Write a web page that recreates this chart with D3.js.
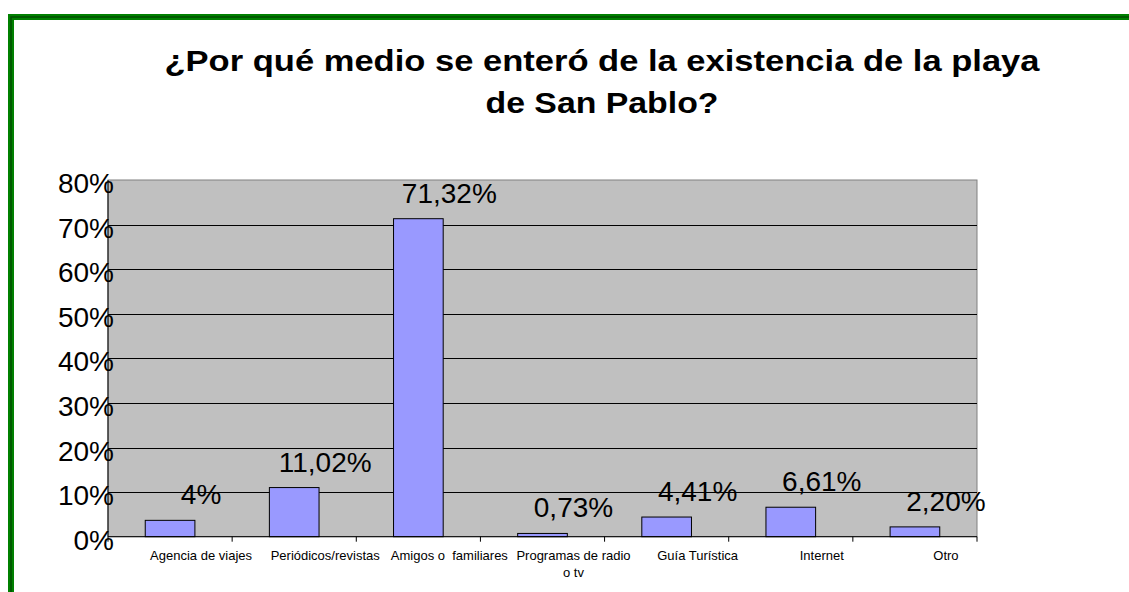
<!DOCTYPE html>
<html>
<head>
<meta charset="utf-8">
<script src="https://cdn.jsdelivr.net/npm/d3@7"></script>
<style>
  body { margin: 0; background: #fff; }
  text { font-family: "Liberation Sans", Arial, sans-serif; }
</style>
</head>
<body>
<div id="chart"></div>
<script>
// data
var categories = ["Agencia de viajes", "Periódicos/revistas", "Amigos o  familiares",
                  "Programas de radio\no tv", "Guía Turística", "Internet", "Otro"];
var values = [3.67, 11.02, 71.32, 0.73, 4.41, 6.61, 2.20];
var valueLabels = ["4%", "11,02%", "71,32%", "0,73%", "4,41%", "6,61%", "2,20%"];
var yTicks = [0, 10, 20, 30, 40, 50, 60, 70, 80];
var titleLines = ["¿Por qué medio se enteró de la existencia de la playa", "de San Pablo?"];

var fullWidth = 1129, fullHeight = 592;
var plot = {left: 108, top: 180, right: 977, bottom: 536.7};

var svg = d3.select("#chart").append("svg")
  .attr("width", fullWidth)
  .attr("height", fullHeight);

svg.append("rect").attr("width", fullWidth).attr("height", fullHeight).attr("fill", "#fff");

// green frame (only top/left visible)
svg.append("rect")
  .attr("x", 11).attr("y", 17)
  .attr("width", 1400).attr("height", 900)
  .attr("fill", "none").attr("stroke", "#008000").attr("stroke-width", 6);
svg.append("rect")
  .attr("x", 11).attr("y", 17)
  .attr("width", 1400).attr("height", 900)
  .attr("fill", "none").attr("stroke", "#004d00").attr("stroke-width", 1.5);

// title
var titleW = [875, 233];
svg.selectAll(".title").data(titleLines).enter()
  .append("text")
  .attr("class", "title")
  .attr("x", 602)
  .attr("y", function(d, i) { return 70.7 + i * 42.6; })
  .attr("text-anchor", "middle")
  .attr("textLength", function(d, i) { return titleW[i]; })
  .attr("lengthAdjust", "spacingAndGlyphs")
  .style("font-size", "29px")
  .style("font-weight", "bold")
  .text(function(d) { return d; });

var x = d3.scaleBand().domain(categories).range([plot.left, plot.right]).paddingInner(0).paddingOuter(0);
var y = d3.scaleLinear().domain([0, 80]).range([plot.bottom, plot.top]);
var bw = x.bandwidth() * 0.4;

// plot area
svg.append("rect")
  .attr("x", plot.left).attr("y", plot.top)
  .attr("width", plot.right - plot.left).attr("height", plot.bottom - plot.top)
  .attr("fill", "#c0c0c0").attr("stroke", "#808080").attr("stroke-width", 1);

// gridlines
svg.selectAll(".grid").data(yTicks.filter(function(t) { return t > 0 && t < 80; })).enter()
  .append("line")
  .attr("x1", plot.left).attr("x2", plot.right)
  .attr("y1", function(d) { return Math.round(y(d)) + 0.5; })
  .attr("y2", function(d) { return Math.round(y(d)) + 0.5; })
  .attr("stroke", "#000").attr("stroke-width", 1);

// bars
svg.selectAll(".bar").data(values).enter()
  .append("rect")
  .attr("class", "bar")
  .attr("x", function(d, i) { return x(categories[i]) + (x.bandwidth() - bw) / 2; })
  .attr("y", function(d) { return y(d); })
  .attr("width", bw)
  .attr("height", function(d) { return plot.bottom - y(d); })
  .attr("fill", "#9999ff").attr("stroke", "#000").attr("stroke-width", 1);

// axes lines
svg.append("line").attr("x1", plot.left).attr("x2", plot.left)
  .attr("y1", plot.top).attr("y2", plot.bottom).attr("stroke", "#000");
svg.append("line").attr("x1", plot.left).attr("x2", plot.right)
  .attr("y1", plot.bottom).attr("y2", plot.bottom).attr("stroke", "#000");

// x tick marks at category boundaries
var bounds = categories.map(function(c) { return x(c); }).concat([plot.right]);
svg.selectAll(".xtick").data(bounds).enter()
  .append("line")
  .attr("x1", function(d) { return d; }).attr("x2", function(d) { return d; })
  .attr("y1", plot.bottom).attr("y2", plot.bottom + 5)
  .attr("stroke", "#000");

// y labels
svg.selectAll(".ylab").data(yTicks).enter()
  .append("text")
  .attr("x", 114)
  .attr("y", function(d) { return y(d) + 13; })
  .attr("text-anchor", "end")
  .style("font-size", "28px")
  .text(function(d) { return d + "%"; });

// value labels
svg.selectAll(".vlab").data(values).enter()
  .append("text")
  .attr("x", function(d, i) { return x(categories[i]) + x.bandwidth() / 2 + 31; })
  .attr("y", function(d) { return y(d) - 16; })
  .attr("text-anchor", "middle")
  .style("font-size", "28px")
  .text(function(d, i) { return valueLabels[i]; });

// category labels
var cl = svg.selectAll(".clab").data(categories).enter()
  .append("text")
  .attr("text-anchor", "middle")
  .style("font-size", "13px")
  .style("white-space", "pre");
cl.selectAll("tspan").data(function(d) { return d.split("\n").map(function(s) { return {s: s, c: d}; }); })
  .enter().append("tspan")
  .attr("x", function(d) { return x(d.c) + x.bandwidth() / 2 + 31; })
  .attr("y", function(d, i) { return 560 + i * 16.5; })
  .text(function(d) { return d.s; });
</script>
</body>
</html>
